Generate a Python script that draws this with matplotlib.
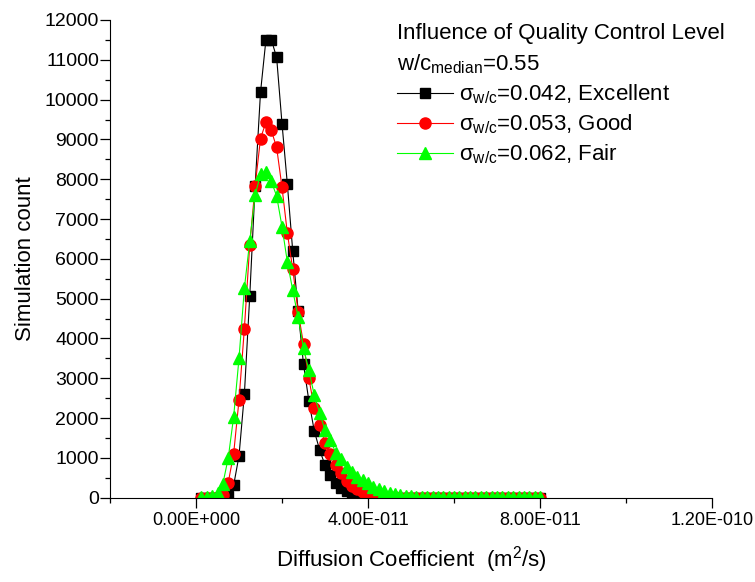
import matplotlib
matplotlib.use("Agg")
import matplotlib.pyplot as plt
import numpy as np
from matplotlib.ticker import MultipleLocator, FixedLocator

plt.rcParams['font.family'] = ['Liberation Sans', 'DejaVu Sans']
plt.rcParams['mathtext.fontset'] = 'custom'
plt.rcParams['mathtext.rm'] = 'Liberation Sans'
plt.rcParams['mathtext.it'] = 'Liberation Sans:italic'

# bin centres, units of 1e-11 m^2/s
bins = [0.125, 0.25, 0.375, 0.5, 0.625, 0.75, 0.875, 1.0,
        1.125, 1.25, 1.375, 1.5, 1.625, 1.75, 1.875, 2.0,
        2.125, 2.25, 2.375, 2.5, 2.625, 2.75, 2.875, 3.0,
        3.125, 3.25, 3.375, 3.5, 3.625, 3.75, 3.875, 4.0,
        4.125, 4.25, 4.375, 4.5, 4.625, 4.75, 4.875, 5.0,
        5.125, 5.25, 5.375, 5.5, 5.625, 5.75, 5.875, 6.0,
        6.125, 6.25, 6.375, 6.5, 6.625, 6.75, 6.875, 7.0,
        7.125, 7.25, 7.375, 7.5, 7.625, 7.75, 7.875, 8.0]

excellent = [0, 0, 0, 0, 0, 40, 310, 1050,
             2600, 5070, 7830, 10180, 11490, 11510, 11060, 9400,
             7870, 6190, 4700, 3350, 2430, 1680, 1200, 820,
             560, 380, 250, 160, 100, 60, 30, 15,
             5, 0, 0, 0, 0, 0, 0, 0,
             0, 0, 0, 0, 0, 0, 0, 0,
             0, 0, 0, 0, 0, 0, 0, 0,
             0, 0, 0, 0, 0, 0, 0, 0]

good = [0, 0, 0, 10, 80, 380, 1100, 2450,
        4250, 6350, 7830, 9020, 9430, 9230, 8800, 7800,
        6640, 5740, 4670, 3860, 3000, 2250, 1830, 1370,
        1100, 820, 620, 420, 300, 210, 150, 100,
        70, 45, 30, 20, 10, 5, 0, 0,
        0, 0, 0, 0, 0, 0, 0, 0,
        0, 0, 0, 0, 0, 0, 0, 0,
        0, 0, 0, 0, 0, 0, 0, 0]

fair = [15, 30, 50, 120, 350, 1000, 2030, 3500,
        5260, 6450, 7600, 8120, 8180, 7950, 7580, 6810,
        5920, 5210, 4530, 3760, 3200, 2580, 2130, 1700,
        1450, 1130, 970, 780, 650, 530, 440, 360,
        280, 220, 170, 130, 100, 75, 55, 40,
        30, 25, 20, 15, 10, 10, 10, 10,
        10, 10, 10, 10, 10, 10, 10, 10,
        10, 10, 10, 10, 10, 10, 10, 10]

xticks = [0, 4e-11, 8e-11, 1.2e-10]
xticklabels = ['0.00E+000', '4.00E-011', '8.00E-011', '1.20E-010']

x = np.array(bins) * 1e-11

fig = plt.figure(figsize=(7.55, 5.82), dpi=100)
ax = fig.add_axes([110 / 755, 1 - 497.7 / 582, (712 - 110) / 755, (497.7 - 20) / 582])

ax.plot(x, excellent, color='black', lw=0.8, marker='s', ms=7.5, mec='black',
        label=r'σ$_{\mathrm{w/c}}$=0.042, Excellent')
ax.plot(x, good, color='red', lw=0.8, marker='o', ms=8, mec='red',
        label=r'σ$_{\mathrm{w/c}}$=0.053, Good')
ax.plot(x, fair, color='#00ff00', lw=0.8, marker='^', ms=9, mec='#00ff00',
        label=r'σ$_{\mathrm{w/c}}$=0.062, Fair')

ax.set_xlim(-2e-11, 1.2e-10)
ax.set_ylim(0, 12000)
ax.spines['top'].set_visible(False)
ax.spines['right'].set_visible(False)
ax.set_xticks(xticks)
ax.set_xticklabels(xticklabels)
ax.xaxis.set_minor_locator(FixedLocator([-2e-11, 2e-11, 6e-11, 1e-10]))
ax.yaxis.set_major_locator(MultipleLocator(1000))
ax.yaxis.set_minor_locator(MultipleLocator(500))
ax.tick_params(which='major', length=7, width=0.9, direction='out')
ax.tick_params(which='minor', length=3.6, width=0.9, direction='out')
ax.tick_params(axis='y', labelsize=14, pad=1)
ax.tick_params(axis='x', labelsize=13, pad=3)

ax.set_xlabel('Diffusion Coefficient  (m$^2$/s)', fontsize=16, labelpad=11)
ax.set_ylabel('Simulation count', fontsize=16, labelpad=6)

leg = ax.legend(title='Influence of Quality Control Level\nw/c$_{\\mathrm{median}}$=0.55',
                loc='upper left', bbox_to_anchor=(397 / 755, 1 - 23 / 582),
                bbox_transform=fig.transFigure, frameon=False, fontsize=16,
                title_fontsize=16, alignment='left', borderpad=0, borderaxespad=0,
                handlelength=2.5, handletextpad=0.3, labelspacing=0.3)
leg.get_title().set_linespacing(1.45)

fig.savefig('out.png', dpi=100)
